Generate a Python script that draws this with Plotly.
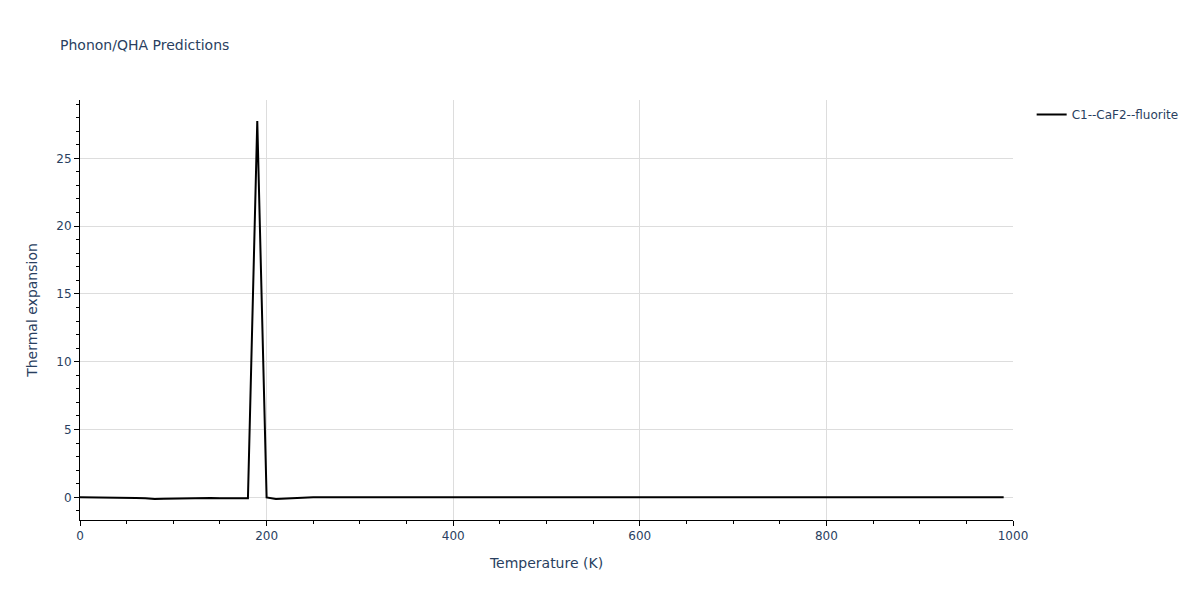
import plotly.graph_objects as go

temperatures = list(range(0, 1000, 10))
low_part = [0.0, 0.0, -0.01, -0.02, -0.03, -0.04, -0.05, -0.06, -0.12, -0.1,
            -0.08, -0.06, -0.05, -0.04, -0.05, -0.06, -0.06, -0.06, -0.06, 27.75,
            0.0, -0.12, -0.08, -0.04, 0.0]
thermal_expansion = low_part + [0.0] * (len(temperatures) - len(low_part))

fig = go.Figure()
fig.add_trace(go.Scatter(
    x=temperatures, y=thermal_expansion, mode="lines",
    name="C1--CaF2--fluorite", line=dict(color="black", width=2),
))

axis_common = dict(
    showline=True, linecolor="black", linewidth=1,
    ticks="outside", tickcolor="black", ticklen=5,
    showgrid=True, gridcolor="#dddddd", zeroline=False,
    tickfont=dict(color="#2a3f5f"),
)
fig.update_layout(
    template="plotly_white",
    width=1200, height=600,
    margin=dict(l=80, r=187, t=100, b=80),
    title=dict(text="Phonon/QHA Predictions", font=dict(size=14, color="#2a3f5f")),
    font=dict(family="Verdana, DejaVu Sans, sans-serif", size=12, color="#2a3f5f"),
    showlegend=True,
    xaxis=dict(title=dict(text="Temperature (K)"), range=[0, 1000], dtick=200,
               minor=dict(ticks="outside", dtick=50, ticklen=3, tickcolor="black", showgrid=False),
               **axis_common),
    yaxis=dict(title=dict(text="Thermal expansion"), dtick=5,
               minor=dict(ticks="outside", dtick=1, ticklen=3, tickcolor="black", showgrid=False),
               **axis_common),
)
fig.write_html("out.html", config={"displayModeBar": False},
               post_script="document.body.style.margin='0';")
